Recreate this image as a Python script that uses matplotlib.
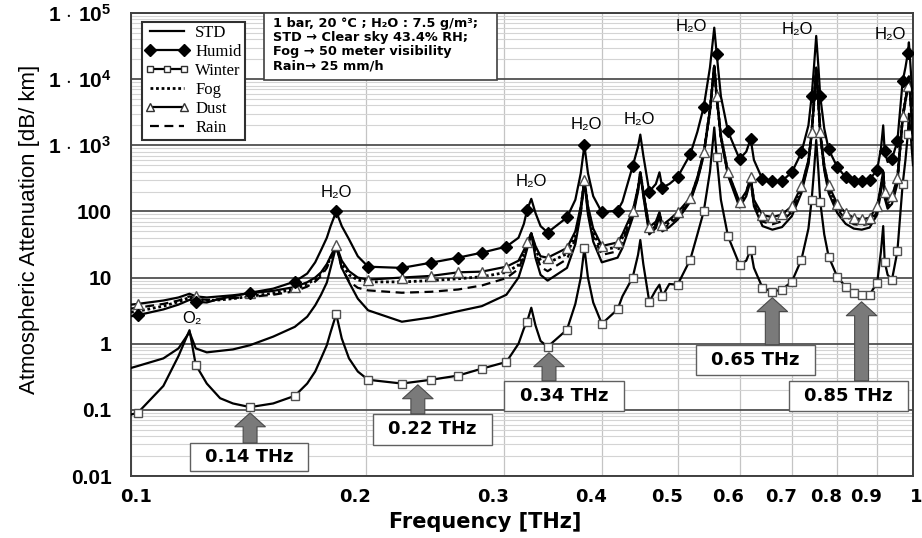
import matplotlib
matplotlib.use("Agg")
import matplotlib.pyplot as plt
from matplotlib.lines import Line2D
from matplotlib.patches import Rectangle
from matplotlib.legend_handler import HandlerLine2D
from matplotlib.ticker import FixedLocator, NullFormatter, LogLocator, NullLocator
import matplotlib.transforms as mtransforms

plt.rcParams['font.family'] = ['Liberation Sans', 'DejaVu Sans']
plt.rcParams['mathtext.fontset'] = 'custom'
plt.rcParams['mathtext.rm'] = 'Liberation Sans'
plt.rcParams['mathtext.bf'] = 'Liberation Sans:bold'
plt.rcParams['mathtext.it'] = 'Liberation Sans:italic'

# ---------------- data ----------------
freq = [0.100, 0.102, 0.110, 0.115, 0.1188, 0.121, 0.125, 0.130, 0.135, 0.142,
        0.152, 0.162, 0.168, 0.172, 0.175, 0.178, 0.180, 0.183, 0.186, 0.190,
        0.195, 0.201, 0.222, 0.242, 0.262, 0.281, 0.302, 0.313, 0.318, 0.321,
        0.325, 0.329, 0.334, 0.341, 0.361, 0.370, 0.376, 0.380, 0.384, 0.390,
        0.400, 0.419, 0.425, 0.438, 0.445, 0.448, 0.452, 0.460, 0.469, 0.474,
        0.478, 0.488, 0.500, 0.519, 0.530, 0.540, 0.550, 0.557, 0.561, 0.568,
        0.580, 0.600, 0.612, 0.620, 0.626, 0.642, 0.661, 0.680, 0.700, 0.720,
        0.735, 0.742, 0.747, 0.752, 0.757, 0.761, 0.770, 0.780, 0.800, 0.820,
        0.840, 0.860, 0.880, 0.900, 0.910, 0.916, 0.920, 0.928, 0.940, 0.955,
        0.970, 0.978, 0.985, 0.988, 0.993, 1.000]

std = [0.43, 0.46, 0.60, 0.85, 1.5, 0.85, 0.74, 0.78, 0.82, 0.95,
       1.28, 1.8, 2.56, 3.8, 5.5, 8.4, 14, 30, 14, 8.5,
       4.8, 3.2, 2.15, 2.5, 3.1, 3.7, 5.5, 10, 18, 27,
       46, 20, 11, 9, 14, 32, 95, 290, 90, 35,
       17, 20, 28, 80, 200, 380, 170, 45, 56, 85,
       50, 58, 75, 140, 290, 700, 3300, 15500, 5200, 1300,
       350, 115, 170, 300, 120, 60, 53, 58, 85, 190,
       520, 1450, 4300, 14500, 4300, 1450, 420, 190, 95, 65,
       55, 53, 57, 90, 200, 370, 160, 110, 130, 260,
       2500, 4600, 7500, 10500, 4600, 1200]

humid = [2.6, 2.7, 3.3, 3.9, 4.6, 4.3, 4.2, 4.8, 5.2, 5.9,
         6.8, 8.7, 11.5, 17, 26, 40, 60, 100, 60, 38,
         21, 14.6, 14, 16.8, 20, 23.8, 29.4, 40, 65, 105,
         155, 95, 60, 48, 81, 150, 380, 1000, 380, 170,
         97, 103, 140, 480, 950, 1450, 700, 200, 260, 390,
         230, 260, 330, 730, 1600, 3800, 15000, 60000, 24000, 5500,
         1620, 620, 800, 1250, 600, 305, 285, 290, 390, 780,
         2000, 5500, 15000, 45000, 15000, 5500, 1800, 870, 470, 330,
         290, 285, 300, 430, 900, 2000, 810, 560, 620, 1150,
         9300, 15000, 25000, 36000, 15000, 4000]

winter = [0.085, 0.09, 0.23, 0.65, 1.6, 0.48, 0.25, 0.15, 0.125, 0.11,
          0.125, 0.163, 0.25, 0.38, 0.6, 0.95, 1.5, 2.8, 1.2, 0.6,
          0.38, 0.285, 0.25, 0.285, 0.33, 0.42, 0.53, 1.0, 1.7, 2.15,
          3.5, 1.9, 1.1, 0.9, 1.63, 4, 10, 28, 10, 4.2,
          2.0, 3.3, 5.2, 10, 22, 37, 16, 4.3, 6.5, 7.8,
          5.2, 8.0, 7.8, 18.7, 45, 100, 400, 1860, 660, 150,
          42, 15.7, 18, 26.5, 14, 7.0, 6.1, 6.6, 8.7, 18.7,
          55, 150, 400, 1200, 400, 140, 45, 20.8, 10.3, 7.3,
          5.9, 5.5, 5.5, 8.4, 25, 60, 17.4, 11, 9.3, 24.8,
          257, 600, 1500, 3000, 1500, 500]

fog = [3.0, 3.1, 3.7, 4.3, 5.0, 4.6, 4.5, 4.6, 4.8, 5.2,
       5.8, 6.7, 8.0, 9.5, 11.5, 15, 20, 30, 16, 11,
       9.2, 8.6, 8.6, 9.0, 9.6, 10.3, 12, 15.5, 23, 31,
       46, 27, 18, 16.5, 23, 44, 110, 295, 110, 48,
       26, 29, 40, 92, 220, 385, 190, 53, 64, 93,
       57, 68, 88, 152, 315, 750, 3400, 15800, 5400, 1350,
       380, 130, 190, 318, 138, 78, 72, 80, 108, 222,
       570, 1550, 4400, 14800, 4400, 1550, 470, 228, 118, 85,
       72, 69, 72, 110, 232, 390, 185, 135, 155, 300,
       2700, 4850, 7800, 10800, 4850, 1260]

dust = [3.9, 4.0, 4.5, 5.0, 5.7, 5.2, 5.0, 5.2, 5.4, 5.8,
        6.3, 7.2, 8.5, 10, 12, 16, 21, 31, 18, 12.5,
        10, 9.3, 10, 10.6, 12, 12.3, 14.6, 18, 26, 34,
        47, 30, 21, 20, 28, 50, 120, 300, 120, 55,
        30, 34, 45, 100, 230, 390, 200, 58, 70, 97,
        62, 75, 97, 160, 330, 780, 3500, 16000, 5500, 1400,
        400, 140, 200, 330, 150, 88, 82, 90, 120, 240,
        600, 1600, 4500, 15000, 4500, 1600, 500, 250, 130, 95,
        80, 76, 80, 120, 250, 400, 200, 150, 170, 320,
        2800, 5000, 8000, 11000, 5000, 1300]

rain = [3.4, 3.5, 4.0, 4.5, 5.2, 4.8, 4.6, 4.7, 4.9, 5.1,
        5.5, 6.2, 7.3, 8.7, 10.5, 14, 19.5, 30, 14, 8.8,
        7.0, 6.4, 5.9, 6.1, 6.6, 7.6, 9.8, 13.5, 21, 29,
        45, 24, 14.5, 12.5, 19, 38, 102, 290, 100, 42,
        22, 25, 35, 88, 212, 382, 182, 50, 61, 90,
        54, 64, 82, 147, 305, 730, 3350, 15600, 5300, 1320,
        365, 124, 182, 310, 130, 70, 64, 71, 98, 208,
        545, 1500, 4350, 14600, 4350, 1500, 445, 210, 108, 76,
        64, 62, 65, 100, 218, 380, 172, 122, 142, 280,
        2600, 4700, 7650, 10600, 4700, 1230]

# frequencies at which the series carry their markers
marker_freq = [0.102, 0.121, 0.142, 0.162, 0.183, 0.201, 0.222, 0.242, 0.262, 0.281,
               0.302, 0.321, 0.341, 0.361, 0.380, 0.400, 0.419, 0.438, 0.460, 0.478,
               0.500, 0.519, 0.540, 0.561, 0.580, 0.600, 0.620, 0.642, 0.661, 0.680,
               0.700, 0.720, 0.742, 0.761, 0.780, 0.800, 0.820, 0.840, 0.860, 0.880,
               0.900, 0.920, 0.940, 0.955, 0.970, 0.985]

xtick_vals = [0.1, 0.2, 0.3, 0.4, 0.5, 0.6, 0.7, 0.8, 0.9, 1.0]
xtick_labels = ['0.1', '0.2', '0.3', '0.4', '0.5', '0.6', '0.7', '0.8', '0.9', '1']
ytick_vals = [0.01, 0.1, 1, 10, 100, 1e3, 1e4, 1e5]
ytick_labels = ['0.01', '0.1', '1', '10', '100',
                r'$\mathbf{1\,\cdot\,10^{3}}$', r'$\mathbf{1\,\cdot\,10^{4}}$', r'$\mathbf{1\,\cdot\,10^{5}}$']

peak_labels = [('O₂', 0.1197, 2.4), ('H₂O', 0.183, 194), ('H₂O', 0.3248, 285),
               ('H₂O', 0.3818, 2080), ('H₂O', 0.4463, 2480), ('H₂O', 0.520, 63500),
               ('H₂O', 0.7107, 57000), ('H₂O', 0.9346, 48000)]

# (label, box f-range, box value-range, arrow f, arrow base, arrow tip)
windows = [('0.14 THz', (0.1190, 0.1684), (0.0119, 0.0316), 0.1420, 0.0316, 0.090),
           ('0.22 THz', (0.2039, 0.2896), (0.0295, 0.0870), 0.2327, 0.0870, 0.239),
           ('0.34 THz', (0.3000, 0.4270), (0.0966, 0.275), 0.3424, 0.275, 0.73),
           ('0.65 THz', (0.5275, 0.7497), (0.339, 0.964), 0.6608, 0.964, 4.97),
           ('0.85 THz', (0.6937, 0.9867), (0.0966, 0.275), 0.8595, 0.275, 4.3)]

# ---------------- figure ----------------
W, H = 922, 538
fig = plt.figure(figsize=(W / 100, H / 100), dpi=100)
L, R, T, B = 131, 913, 13, 476
ax = fig.add_axes([L / W, 1 - B / H, (R - L) / W, (B - T) / H])
ax.set_xscale('log')
ax.set_yscale('log')
ax.set_xlim(0.1, 1.0)
ax.set_ylim(0.01, 1e5)

# grid
ax.xaxis.set_major_locator(FixedLocator(xtick_vals))
ax.xaxis.set_minor_locator(NullLocator())
ax.set_xticklabels(xtick_labels)
ax.yaxis.set_major_locator(FixedLocator(ytick_vals))
ax.yaxis.set_minor_locator(LogLocator(base=10, subs=[2, 3, 4, 5, 6, 7, 8, 9], numticks=20))
ax.yaxis.set_minor_formatter(NullFormatter())
ax.set_yticklabels(ytick_labels)
ax.grid(True, axis='x', which='major', color='#c4c4c4', lw=0.9, zorder=0)
ax.grid(True, axis='y', which='minor', color='#d4d4d4', lw=0.8, zorder=0)
ax.grid(True, axis='y', which='major', color='#505050', lw=1.3, zorder=0.5)
ax.set_axisbelow(True)
ax.tick_params(which='both', length=0)
ax.tick_params(axis='y', pad=14)
ax.tick_params(axis='x', pad=9)
for lab in ax.get_yticklabels():
    lab.set_fontweight('bold')
    lab.set_fontsize(15)
for i, lab in enumerate(ax.get_xticklabels()):
    lab.set_fontweight('bold')
    lab.set_fontsize(13)
    lab.set_family('DejaVu Sans')
    dx = 5 if i == 0 else (3 if i == len(xtick_labels) - 1 else -11)
    lab.set_transform(lab.get_transform() + mtransforms.ScaledTranslation(dx / 100, 0, fig.dpi_scale_trans))
for sp in ax.spines.values():
    sp.set_color('#404040')
    sp.set_linewidth(1.4)

mk_set = set(marker_freq)
mk_idx = [i for i, f in enumerate(freq) if f in mk_set]

lw = 1.6
ax.plot(freq, winter, color='black', lw=lw, marker='s', ms=6, mfc='white', mec='#505050',
        mew=1.0, markevery=mk_idx, zorder=3)
ax.plot(freq, std, color='black', lw=lw, zorder=3)
ax.plot(freq, rain, color='black', lw=lw, ls=(0, (4, 2.5)), zorder=3)
ax.plot(freq, fog, color='black', lw=2.0, ls=(0, (1, 1)), zorder=3)
ax.plot(freq, dust, color='black', lw=lw, marker='^', ms=7, mfc='white', mec='#505050',
        mew=1.0, markevery=mk_idx, zorder=3)
ax.plot(freq, humid, color='black', lw=lw, marker='D', ms=6.5, mfc='black', mec='black',
        markevery=mk_idx, zorder=4)

# legend (proxy handles)
h_std = Line2D([], [], color='black', lw=lw)
h_hum = Line2D([], [], color='black', lw=lw, marker='D', ms=6, mfc='black')
h_win = Line2D([], [], color='black', lw=lw, marker='s', ms=5, mfc='white', mec='#303030')
h_fog = Line2D([], [], color='black', lw=2.0, ls=(0, (1, 1)))
h_dust = Line2D([], [], color='black', lw=lw, marker='^', ms=6, mfc='white', mec='#303030')
h_rain = Line2D([], [], color='black', lw=lw, ls=(0, (4, 2.5)))
leg = ax.legend([h_std, h_hum, h_win, h_fog, h_dust, h_rain],
                ['STD', 'Humid', 'Winter', 'Fog', 'Dust', 'Rain'],
                loc='upper left', bbox_to_anchor=((142 - L) / (R - L), (B - 22) / (B - T)),
                prop={'family': 'Liberation Serif', 'size': 12}, numpoints=2,
                handler_map={h_win: HandlerLine2D(numpoints=3)},
                frameon=True, fancybox=False, framealpha=1, edgecolor='#303030',
                borderaxespad=0, borderpad=0.2, labelspacing=0.18, handlelength=2.6,
                handletextpad=0.4)
leg.get_frame().set_linewidth(1.5)
leg.set_zorder(6)

# condition text box
ax.add_patch(Rectangle(((264 - L) / (R - L), (B - 80) / (B - T)), (497 - 264) / (R - L), (80 - T) / (B - T),
                       transform=ax.transAxes, fc='white', ec='#404040', lw=1.2, zorder=5))
ax.text((273 - L) / (R - L), (B - 17) / (B - T),
        '1 bar, 20 °C ; H₂O : 7.5 g/m³;\nSTD → Clear sky 43.4% RH;\nFog → 50 meter visibility\nRain→ 25 mm/h',
        transform=ax.transAxes, ha='left', va='top', fontsize=9.3, fontweight='bold',
        family='DejaVu Sans', linespacing=1.12, zorder=6)

# peak labels
for txt, f, v in peak_labels:
    ax.text(f, v, txt, ha='center', va='center', fontsize=12, zorder=6)

# window boxes and arrows
for txt, (f1, f2), (v1, v2), fa, vb, vt in windows:
    ax.add_patch(Rectangle((f1, v1), f2 - f1, v2 - v1, fc='white', ec='#606060', lw=1.0, zorder=6))
    ax.text((f1 * f2) ** 0.5, (v1 * v2) ** 0.5, txt, ha='center', va='center',
            fontsize=13, fontweight='bold', family='DejaVu Sans', zorder=7)
    ax.annotate('', xy=(fa, vt), xytext=(fa, vb),
                arrowprops=dict(arrowstyle='simple,head_length=1.0,head_width=2.2,tail_width=1.0',
                                mutation_scale=10, fc='#7a7a7a', ec='#4a4a4a', lw=0.8,
                                shrinkA=0, shrinkB=0), zorder=6)

fig.text(30 / W, 1 - 229 / H, 'Atmospheric Attenuation [dB/ km]', rotation=90,
         ha='center', va='center', fontsize=16)
fig.text(485 / W, 1 - 522 / H, 'Frequency [THz]', ha='center', va='center',
         fontsize=15, fontweight='bold', family='DejaVu Sans')

fig.savefig('out.png', dpi=100)
